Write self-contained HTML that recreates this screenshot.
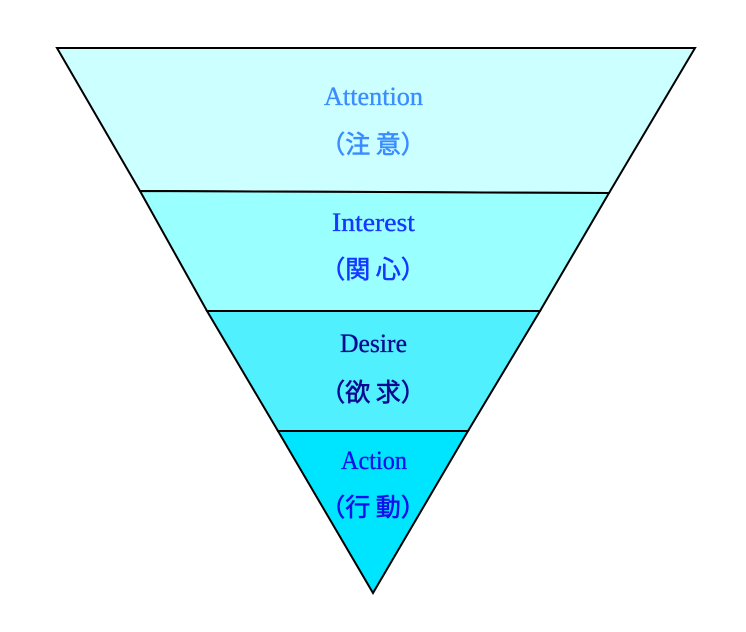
<!DOCTYPE html>
<html>
<head>
<meta charset="utf-8">
<style>
html,body{margin:0;padding:0;background:#fff;}
svg{display:block;}
.en{font-family:"Liberation Serif",serif;font-size:26px;stroke-width:0.35px;}
.jp{font-family:"Noto Sans CJK JP","Liberation Sans",sans-serif;font-size:25px;font-weight:normal;stroke-width:0.6px;}
</style>
</head>
<body>
<svg width="746" height="632" viewBox="0 0 746 632" xmlns="http://www.w3.org/2000/svg">
  <rect width="746" height="632" fill="#ffffff"/>
  <g stroke="#000" stroke-width="2" stroke-linejoin="miter">
    <polygon points="57,48 695,48 609,193 140,191" fill="#CCFFFF"/>
    <polygon points="140,191 609,193 540,311 207,311" fill="#99FFFF"/>
    <polygon points="207,311 540,311 468,431 278,431" fill="#50F0FF"/>
    <polygon points="278,431 468,431 373,593" fill="#00E5FF"/>
  </g>
  <text class="en" x="324" y="105" textLength="99" lengthAdjust="spacingAndGlyphs" fill="#3A8CFF" stroke="#3A8CFF">Attention</text>
  <text class="jp" x="373" y="153" text-anchor="middle" fill="#3A8CFF" stroke="#3A8CFF">（注 意）</text>

  <text class="en" x="332" y="231" textLength="83" lengthAdjust="spacingAndGlyphs" fill="#1438FF" stroke="#1438FF">Interest</text>
  <text class="jp" x="373" y="278" text-anchor="middle" fill="#1438FF" stroke="#1438FF">（関 心）</text>

  <text class="en" x="340" y="352" textLength="67" lengthAdjust="spacingAndGlyphs" fill="#0A0A90" stroke="#0A0A90">Desire</text>
  <text class="jp" x="373" y="401" text-anchor="middle" fill="#0A0A90" stroke="#0A0A90">（欲 求）</text>

  <text class="en" x="341" y="469" textLength="66" lengthAdjust="spacingAndGlyphs" fill="#1010E8" stroke="#1010E8">Action</text>
  <text class="jp" x="373" y="516" text-anchor="middle" fill="#1010E8" stroke="#1010E8">（行 動）</text>
</svg>
</body>
</html>
